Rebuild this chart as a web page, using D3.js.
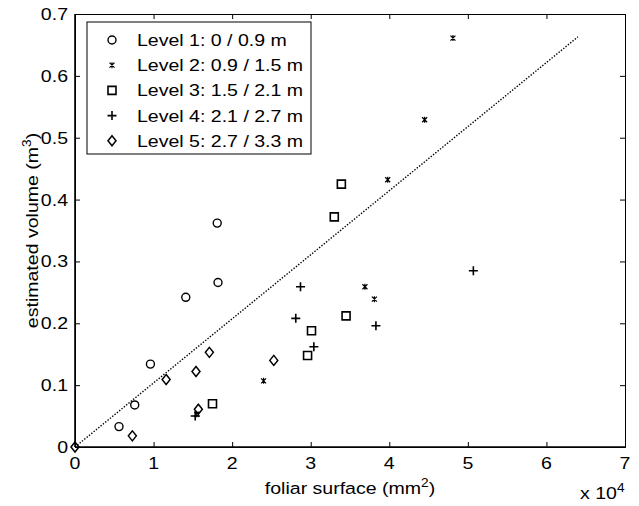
<!DOCTYPE html>
<html>
<head>
<meta charset="utf-8">
<script src="https://cdn.jsdelivr.net/npm/d3@7"></script>
<style>
  html, body { margin: 0; padding: 0; background: #fff; }
  svg { display: block; }
  text { font-family: "Liberation Sans", Arial, Helvetica, sans-serif; fill: #000; }
</style>
</head>
<body>
<svg id="chart" width="639" height="506"></svg>
<script>
// ---- data (x in units of 10^4 mm^2, y in m^3) ----
const levelNames = ["Level 1: 0 / 0.9 m", "Level 2: 0.9 / 1.5 m", "Level 3: 1.5 / 2.1 m", "Level 4: 2.1 / 2.7 m", "Level 5: 2.7 / 3.3 m"];
const level1X = [0.56, 0.76, 0.96, 1.41, 1.82, 1.81];
const level1Y = [0.033, 0.068, 0.134, 0.242, 0.266, 0.362];
const level2X = [1.55, 2.40, 3.69, 3.81, 3.98, 4.45, 4.81];
const level2Y = [0.053, 0.107, 0.259, 0.239, 0.432, 0.529, 0.661];
const level3X = [1.75, 2.96, 3.01, 3.45, 3.30, 3.39];
const level3Y = [0.070, 0.148, 0.188, 0.212, 0.372, 0.425];
const level4X = [1.53, 2.81, 2.87, 3.04, 3.83, 5.07];
const level4Y = [0.050, 0.208, 0.259, 0.162, 0.196, 0.285];
const level5X = [0, 0.73, 1.16, 1.54, 1.57, 1.71, 2.53];
const level5Y = [0, 0.018, 0.109, 0.122, 0.061, 0.153, 0.140];
const fitX = [0, 6.4];
const fitY = [0, 0.663];
const xTicks = [0, 1, 2, 3, 4, 5, 6, 7];
const yTicks = [0, 0.1, 0.2, 0.3, 0.4, 0.5, 0.6, 0.7];
const yTickLabels = ["0", "0.1", "0.2", "0.3", "0.4", "0.5", "0.6", "0.7"];

const svg = d3.select("#chart");
const x = d3.scaleLinear().domain([0, 7]).range([75, 625]);
const y = d3.scaleLinear().domain([0, 0.7]).range([447, 14]);

const FS = 17, SX = 1.15;

// scaled text helper (font is horizontally stretched in the reference)
function label(parent, px, py, parts, anchor, rot) {
  const g = parent.append("g")
    .attr("transform", `translate(${px},${py})` + (rot ? ` rotate(${rot})` : "") + ` scale(${SX},1)`);
  const t = g.append("text").attr("x", 0).attr("y", 0)
    .attr("text-anchor", anchor || "start").attr("font-size", FS);
  let afterSup = false;
  parts.forEach(p => {
    if (typeof p === "string") {
      const s = t.append("tspan").text(p);
      if (afterSup) s.attr("dy", 7);
      afterSup = false;
    } else {
      t.append("tspan").attr("font-size", FS * 0.7).attr("dy", -7).text(p.sup);
      afterSup = true;
    }
  });
  return g;
}

// ---- marker shapes ----
const shapes = [
  { path: "M4,0A4,4 0 1,1 -4,0A4,4 0 1,1 4,0Z", w: 1.4 },
  { path: "M-2.5,-2.5L2.5,2.5M-2.5,2.5L2.5,-2.5M0,-3L0,3", w: 1.2 },
  { path: "M-4,-4H4V4H-4Z", w: 1.6 },
  { path: "M-4.5,0H4.5M0,-4.5V4.5", w: 1.6 },
  { path: "M0,-5L4,0L0,5L-4,0Z", w: 1.5 }
];
const seriesX = [level1X, level2X, level3X, level4X, level5X];
const seriesY = [level1Y, level2Y, level3Y, level4Y, level5Y];

// ---- fitted dotted line ----
svg.append("path")
  .datum(fitX.map((v, i) => [v, fitY[i]]))
  .attr("d", d3.line().x(d => x(d[0])).y(d => y(d[1])))
  .attr("fill", "none").attr("stroke", "#000")
  .attr("stroke-width", 1.4).attr("stroke-dasharray", "1.4,1.6");

// ---- points ----
seriesX.forEach((xs, s) => {
  const pts = xs.map((v, i) => [v, seriesY[s][i]]);
  svg.append("g").selectAll("path").data(pts).join("path")
    .attr("transform", d => `translate(${x(d[0])},${y(d[1])})`)
    .attr("d", shapes[s].path)
    .attr("fill", "none").attr("stroke", "#000")
    .attr("stroke-width", shapes[s].w);
});

// ---- axes (box with inward ticks) ----
const axG = svg.append("g");
axG.append("g").attr("transform", "translate(0,447)")
  .call(d3.axisBottom(x).tickValues(xTicks).tickSize(-5).tickFormat(""));
axG.append("g").attr("transform", "translate(0,14)")
  .call(d3.axisTop(x).tickValues(xTicks).tickSize(-5).tickFormat(""));
axG.append("g").attr("transform", "translate(75,0)")
  .call(d3.axisLeft(y).tickValues(yTicks).tickSize(-5).tickFormat(""));
axG.append("g").attr("transform", "translate(625,0)")
  .call(d3.axisRight(y).tickValues(yTicks).tickSize(-5).tickFormat(""));
axG.selectAll(".domain").attr("stroke", "#000").attr("stroke-width", 1);
axG.selectAll(".tick line").attr("stroke", "#000").attr("stroke-width", 1);
// heavier left/bottom lines
svg.append("line").attr("x1", x(0)).attr("x2", x(7)).attr("y1", y(0)).attr("y2", y(0))
  .attr("stroke", "#000").attr("stroke-width", 1.6);
svg.append("line").attr("x1", x(0)).attr("x2", x(0)).attr("y1", y(0)).attr("y2", y(0.7))
  .attr("stroke", "#000").attr("stroke-width", 1.6);

// tick labels
xTicks.forEach(t => label(svg, x(t), y(0) + 22, [String(t)], "middle"));
yTicks.forEach((t, i) => label(svg, x(0) - 7, y(t) + 6, [yTickLabels[i]], "end"));

// axis titles
label(svg, (x(0) + x(7)) / 2, 494, ["foliar surface (mm", { sup: "2" }, ")"], "middle");
label(svg, 38, (y(0) + y(0.7)) / 2, ["estimated volume (m", { sup: "3" }, ")"], "middle", -90);
label(svg, 580, 499, ["x 10", { sup: "4" }], "start");

// ---- legend ----
const lg = svg.append("g");
lg.append("rect").attr("x", 87).attr("y", 22).attr("width", 224).attr("height", 132)
  .attr("fill", "#fff").attr("stroke", "#000").attr("stroke-width", 1);
levelNames.forEach((name, i) => {
  const ry = 40 + i * 25.2;
  lg.append("path").attr("transform", `translate(112,${ry})`)
    .attr("d", shapes[i].path).attr("fill", "none").attr("stroke", "#000")
    .attr("stroke-width", shapes[i].w);
  label(lg, 137, ry + 6, [name], "start");
});
</script>
</body>
</html>
